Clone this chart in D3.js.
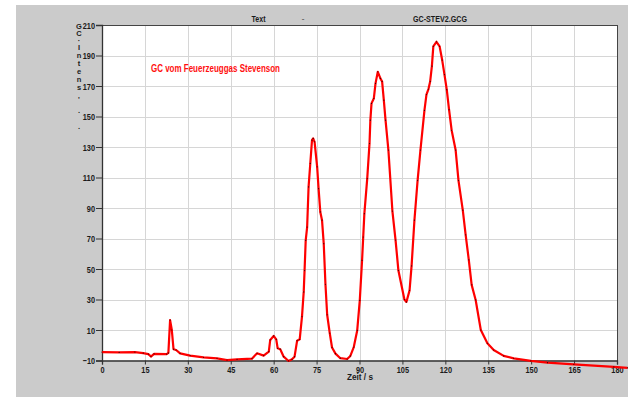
<!DOCTYPE html>
<html><head><meta charset="utf-8">
<script src="https://cdn.jsdelivr.net/npm/d3@7"></script>
<style>
html,body{margin:0;padding:0;background:#fff;}
svg{display:block;}
text{font-family:"Liberation Sans",Arial,sans-serif;font-weight:bold;}
</style></head>
<body>
<svg id="c" width="628" height="397"></svg>
<script>
// Data (time in s, intensity)
const times = [0,6,11.5,14.4,16.2,17.1,18.2,22.6,23.2,23.8,24.4,25.0,25.9,27.3,30.8,35.5,40.2,43.7,47.2,52.4,54.2,56.5,58.3,58.8,60.0,60.9,61.4,62.3,63.5,65.2,66.4,67.3,68.2,69.1,69.9,70.5,70.8,71.2,71.7,72.2,72.8,73.4,73.8,74.3,75.2,75.7,76.3,76.9,77.5,78.1,78.7,79.6,80.4,81.6,83.3,85.7,86.8,88.0,89.2,90.1,90.9,91.3,91.7,92.7,93.5,93.8,94.2,95.0,95.6,96.4,97.3,97.9,98.5,99.1,100.1,101.5,102.6,103.6,105.7,106.4,107.5,108.2,109.2,110.3,111.3,112.7,113.4,114.1,114.7,115.3,115.8,116.9,118.0,118.9,119.7,120.5,121.3,122.2,123.6,124.6,126.1,127.1,128.2,129.2,130.6,132.4,134.7,136.9,140.4,143.9,149.9,155.7,164.9,178.9,183.7];
const intensity = [-4.5,-4.7,-4.5,-5.2,-5.8,-7.4,-5.7,-5.8,-5.0,16.5,10,-2.6,-3.1,-5.3,-6.8,-7.9,-8.6,-9.7,-9.2,-8.8,-5.3,-6.8,-4.2,3.5,6.1,3.9,-2.0,-2.6,-7.5,-10.3,-9.2,-7.5,3.0,3.9,18.8,35,49,68.8,77.5,103.8,119.2,134.5,135.6,133.4,117,102.7,87.4,82,66.6,40,20,8,-1.5,-5.5,-8.5,-9,-7,-1.2,9.7,29.4,55.7,71,86.3,109.3,132.3,147.6,158.6,161.8,171.7,179.3,175,173,160.7,147.6,128,88,69,49,30,28.4,36,52,82,108,128,154,164.4,168,173,183,196,199,196,187,177.5,167.6,154.5,141,128,108,88.6,72.4,56,39.6,29.7,10,1.3,-3.1,-7,-8.6,-10.3,-11.4,-12.5,-14.2,-14.8];
const xTicks = [0,15,30,45,60,75,90,105,120,135,150,165,180];
const yTicks = [-10,10,30,50,70,90,110,130,150,170,190,210];
const yLabelChars = ["G","C","·","I","n","t","e","n","s","'",".","."];
const yLabelPos = [26,33,40,47,55,63,71,79,87,99,110,126];

const svg = d3.select("#c");
svg.append("rect").attr("x",16).attr("y",5).attr("width",612).attr("height",392).attr("fill","#cbcbcb");

const x = d3.scaleLinear().domain([0,180]).range([102,617]);
const y = d3.scaleLinear().domain([-10,210]).range([360.5,25]);

// plot area
svg.append("rect").attr("x",x(0)).attr("y",y(210)).attr("width",x(180)-x(0)).attr("height",y(-10)-y(210)).attr("fill","#fff");

// grid
const g = svg.append("g");
g.selectAll("line.v").data(xTicks.slice(1,-1)).join("line")
  .attr("x1",d=>Math.round(x(d))+0.5).attr("x2",d=>Math.round(x(d))+0.5)
  .attr("y1",y(210)).attr("y2",y(-10)).attr("stroke","#d6d6d6").attr("stroke-width",1);
g.selectAll("line.h").data(yTicks.slice(1,-1)).join("line")
  .attr("y1",d=>Math.round(y(d))+0.5).attr("y2",d=>Math.round(y(d))+0.5)
  .attr("x1",x(0)).attr("x2",x(180)).attr("stroke","#d6d6d6").attr("stroke-width",1);

// frame top/right
svg.append("line").attr("x1",x(0)).attr("x2",x(180)).attr("y1",25.5).attr("y2",25.5).attr("stroke","#444");
svg.append("line").attr("x1",617.5).attr("x2",617.5).attr("y1",25).attr("y2",361).attr("stroke","#444");

// axes
const ax = svg.append("g").attr("transform","translate(0,360.5)")
  .call(d3.axisBottom(x).tickValues(xTicks).tickSize(4).tickPadding(2).tickFormat(d3.format("d")));
const ay = svg.append("g").attr("transform","translate(102,0)")
  .call(d3.axisLeft(y).tickValues(yTicks).tickSize(6).tickPadding(1).tickFormat(d3.format("d")));
[ax,ay].forEach(a=>{
  a.select(".domain").attr("stroke","#333").attr("stroke-width",1.3);
  a.selectAll(".tick line").attr("stroke","#333");
  a.selectAll(".tick text").attr("fill","#1a1a1a").attr("font-size","9.5px")
   .attr("font-family","'Liberation Sans',Arial,sans-serif").attr("font-weight","bold")
   .attr("lengthAdjust","spacingAndGlyphs")
   .attr("textLength",function(){const s=this.textContent;return s.replace("-","").length*4.1+(s.includes("-")?3:0);});
});
ay.selectAll(".tick text").attr("dy","0.35em");

// data line
const line = d3.line().x((d,i)=>x(times[i])).y(d=>y(d));
svg.append("path").datum(intensity).attr("d",line).attr("fill","none")
  .attr("stroke","#ff0000").attr("stroke-width",2.2).attr("stroke-linejoin","round");
svg.append("g").selectAll("circle").data(intensity).join("circle")
  .attr("cx",(d,i)=>x(times[i])).attr("cy",d=>y(d)).attr("r",0.6).attr("fill","#3a0000");

// texts
function t(xp,yp,size,fill,str,len,anchor){
  const e=svg.append("text").attr("x",xp).attr("y",yp).attr("font-size",size).attr("fill",fill).text(str);
  if(anchor) e.attr("text-anchor",anchor);
  if(len) e.attr("textLength",len).attr("lengthAdjust","spacingAndGlyphs");
  return e;
}
t(258.5,22,"9.5px","#1a1a1a","Text",14,"middle");
t(303,21,"8px","#666","-",null,"middle");
t(440,22,"9.5px","#1a1a1a","GC-STEV2.GCG",54,"middle");
t(151,72,"10px","#ff1010","GC vom Feuerzeuggas Stevenson",129);
t(347,380,"9px","#1a1a1a","Zeit / s",26);
svg.append("g").selectAll("text").data(yLabelChars).join("text")
  .attr("x",79).attr("y",(d,i)=>yLabelPos[i]+3).attr("text-anchor","middle")
  .attr("font-size","7.5px").attr("fill","#1a1a1a").text(d=>d);
</script>
</body></html>
